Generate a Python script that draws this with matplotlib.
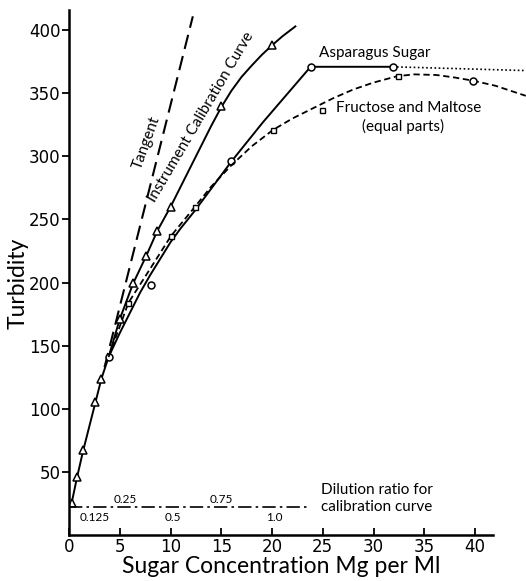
import matplotlib
matplotlib.use("Agg")
import matplotlib.pyplot as plt

plt.rcParams['font.family'] = ['Lato', 'DejaVu Sans']

# ---- data ----
# Instrument calibration curve (line and triangle markers)
inst_line_x = [0.25, 0.8, 1.4, 2.6, 3.2, 3.9, 5.0, 6.3, 7.6, 8.7, 10.0, 11.0, 12.0, 13.0,
               14.0, 15.0, 16.0, 17.0, 18.0, 19.0, 20.0, 21.0, 22.3]
inst_line_y = [25, 46, 67, 105, 124, 141, 171, 199, 221, 241, 260, 276, 292, 308,
               324, 339, 352, 363, 372, 380.5, 388, 395, 403]
inst_pts_x = [0.25, 0.8, 1.4, 2.6, 3.2, 5.0, 6.3, 7.6, 8.7, 10.0, 15.0, 20.0]
inst_pts_y = [25, 46, 67, 105, 124, 171, 200, 221, 241, 260, 340, 388]

# Tangent
tangent_x = [3.5, 12.2]
tangent_y = [133, 411]

# Asparagus sugar (solid line, circles) and dotted extension
asp_line_x = [3.9, 5.0, 6.0, 7.0, 8.0, 9.0, 10.0, 11.0, 12.4, 16.0, 19.1, 23.8, 31.9]
asp_line_y = [141, 160, 176, 192, 206, 219, 232, 243, 257, 296, 327, 371, 371]
asp_pts_x = [3.9, 8.1, 16.0, 23.8, 31.9]
asp_pts_y = [141, 198, 296, 371, 371]
asp_ext_x = [31.9, 45.0]
asp_ext_y = [371, 368]

# Fructose and maltose (dashed line, small markers)
fru_line_x = [3.9, 5.85, 8.0, 10.05, 12.4, 14.0, 16.0, 18.0, 20.1, 22.0, 24.0, 26.0,
              28.0, 30.0, 32.3, 34.0, 36.2, 38.0, 39.8, 42.0, 45.0]
fru_line_y = [141, 184, 211, 237, 260, 276, 293, 308, 321, 330, 338, 346,
              353, 358.5, 363.5, 365, 364.5, 362.5, 360, 356, 348]
fru_pts_x = [5.85, 10.05, 12.4, 20.1, 24.9, 32.4]
fru_pts_y = [184, 237, 260, 321, 337, 364]
fru_circ_x = [39.8]
fru_circ_y = [360]

# Dilution ratio scale
dil_x = [0.0, 23.4]
dil_y = [22, 22]
dil_labels_above = ['0.25', '0.75']
dil_above_x = [5.5, 15.0]
dil_labels_below = ['0.125', '0.5', '1.0']
dil_below_x = [2.5, 10.2, 20.2]

x_ticks = [0, 5, 10, 15, 20, 25, 30, 35, 40]
y_ticks = [50, 100, 150, 200, 250, 300, 350, 400]

# ---- figure ----
fig = plt.figure(figsize=(5.26, 5.81), dpi=100)
ax = fig.add_axes([69/526, 1-535/581, (525.8-69)/526, 525/581])
ax.set_xlim(0, 45)
ax.set_ylim(0, 416)

lw = 1.4
ax.plot(tangent_x, tangent_y, color='black', lw=1.5, linestyle=(0, (7, 3.5)))
ax.plot(inst_line_x, inst_line_y, color='black', lw=lw)
ax.plot(inst_pts_x, inst_pts_y, linestyle='none', marker='^', ms=5.5,
        mfc='white', mec='black', mew=1.1)
ax.plot(asp_line_x, asp_line_y, color='black', lw=lw)
ax.plot(asp_ext_x, asp_ext_y, color='black', lw=1.2, linestyle=(0, (1, 1.5)))
ax.plot(asp_pts_x, asp_pts_y, linestyle='none', marker='o', ms=5,
        mfc='white', mec='black', mew=1.1)
ax.plot(fru_line_x, fru_line_y, color='black', lw=1.3, linestyle=(0, (3.5, 2)))
ax.plot(fru_pts_x, fru_pts_y, linestyle='none', marker='s', ms=3.6,
        mfc='white', mec='black', mew=1.0)
ax.plot(fru_circ_x, fru_circ_y, linestyle='none', marker='o', ms=5,
        mfc='white', mec='black', mew=1.1)

ax.plot(dil_x, dil_y, color='black', lw=1.2, linestyle=(0, (8, 2.5, 1.5, 2.5)))
for lab, xx in zip(dil_labels_above, dil_above_x):
    ax.text(xx, 28.5, lab, fontsize=8.5, ha='center', va='center')
for lab, xx in zip(dil_labels_below, dil_below_x):
    ax.text(xx, 14, lab, fontsize=8.5, ha='center', va='center')
ax.text(24.8, 36, 'Dilution ratio for', fontsize=11, ha='left', va='center')
ax.text(24.8, 22, 'calibration curve', fontsize=11, ha='left', va='center')

ax.text(24.6, 382, 'Asparagus Sugar', fontsize=11, ha='left', va='center')
ax.text(26.3, 338, 'Fructose and Maltose', fontsize=11, ha='left', va='center')
ax.text(32.9, 324, '(equal parts)', fontsize=11, ha='center', va='center')
ax.text(7.6, 311, 'Tangent', fontsize=11, ha='center', va='center', rotation=70)
ax.text(13.0, 331, 'Instrument Calibration Curve', fontsize=11, ha='center',
        va='center', rotation=59.5)

# axes styling
for s in ['top', 'right']:
    ax.spines[s].set_visible(False)
ax.spines['left'].set_linewidth(1.8)
ax.spines['bottom'].set_linewidth(1.8)
ax.spines['bottom'].set_bounds(0, 41.8)
ax.set_xticks(x_ticks)
ax.set_xticklabels([str(v) for v in x_ticks], family='DejaVu Sans')
ax.set_yticks(y_ticks)
ax.set_yticklabels([str(v) for v in y_ticks], family='DejaVu Sans')
ax.tick_params(axis='x', direction='in', length=5, width=1.3, labelsize=12, pad=2)
ax.tick_params(axis='y', direction='out', length=5, width=1.3, labelsize=12, pad=1)

ax.set_xlabel('Sugar Concentration Mg per Ml', fontsize=16.5)
ax.set_ylabel('Turbidity', fontsize=16.5)
ax.xaxis.set_label_coords((281-69)/457, (535-556)/525)
ax.yaxis.set_label_coords((29-69)/457, (535-283)/525)

fig.savefig('out.png', dpi=100)
